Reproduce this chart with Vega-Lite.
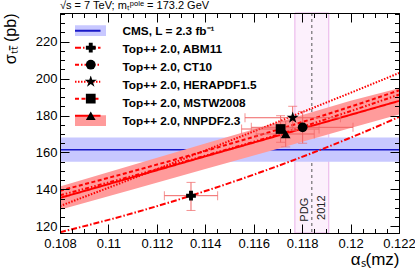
{
  "$schema": "https://vega.github.io/schema/vega-lite/v6.json",
  "width": 339,
  "height": 220,
  "autosize": {"type": "none"},
  "padding": {"left": 60, "top": 13, "right": 16, "bottom": 36},
  "title": {"text": "√s = 7 TeV; mₜᵖᵒˡᵉ = 173.2 GeV", "anchor": "start", "frame": "group", "fontSize": 11, "fontWeight": "normal", "font": "Liberation Sans", "baseline": "alphabetic", "offset": -7.5, "color": "black"},
  "config": {"view": {"stroke": null}, "font": "Liberation Sans"},
  "resolve": {"axis": {"x": "independent", "y": "independent"}},
  "datasets": {
    "pdg": [{"lo": 0.1177, "hi": 0.1191, "c": 0.1184}],
    "cms": [{"pdf": "CMS", "xs": 161.5, "lo": 155.0, "hi": 168.1}],
    "band": [
      {"pdf": "NNPDF2.3", "alphas": 0.108, "lo": 129.0, "hi": 141.6},
      {"pdf": "NNPDF2.3", "alphas": 0.111, "lo": 140.0, "hi": 153.2},
      {"pdf": "NNPDF2.3", "alphas": 0.114, "lo": 151.0, "hi": 164.8},
      {"pdf": "NNPDF2.3", "alphas": 0.117, "lo": 162.0, "hi": 176.4},
      {"pdf": "NNPDF2.3", "alphas": 0.120, "lo": 173.2, "hi": 188.0},
      {"pdf": "NNPDF2.3", "alphas": 0.122, "lo": 180.6, "hi": 194.8}
    ],
    "curves": [
      {"pdf": "ABM11", "alphas": 0.108, "xs": 116.8},
      {"pdf": "ABM11", "alphas": 0.111, "xs": 127.1},
      {"pdf": "ABM11", "alphas": 0.114, "xs": 139.1},
      {"pdf": "ABM11", "alphas": 0.117, "xs": 152.7},
      {"pdf": "ABM11", "alphas": 0.120, "xs": 168.0},
      {"pdf": "ABM11", "alphas": 0.122, "xs": 179.2},
      {"pdf": "CT10", "alphas": 0.108, "xs": 136.8},
      {"pdf": "CT10", "alphas": 0.111, "xs": 147.3},
      {"pdf": "CT10", "alphas": 0.114, "xs": 158.3},
      {"pdf": "CT10", "alphas": 0.117, "xs": 169.7},
      {"pdf": "CT10", "alphas": 0.120, "xs": 182.4},
      {"pdf": "CT10", "alphas": 0.122, "xs": 191.3},
      {"pdf": "HERAPDF1.5", "alphas": 0.108, "xs": 131.0},
      {"pdf": "HERAPDF1.5", "alphas": 0.111, "xs": 145.9},
      {"pdf": "HERAPDF1.5", "alphas": 0.114, "xs": 161.1},
      {"pdf": "HERAPDF1.5", "alphas": 0.117, "xs": 176.6},
      {"pdf": "HERAPDF1.5", "alphas": 0.120, "xs": 192.3},
      {"pdf": "HERAPDF1.5", "alphas": 0.122, "xs": 203.0},
      {"pdf": "MSTW2008", "alphas": 0.108, "xs": 139.3},
      {"pdf": "MSTW2008", "alphas": 0.111, "xs": 149.8},
      {"pdf": "MSTW2008", "alphas": 0.114, "xs": 160.8},
      {"pdf": "MSTW2008", "alphas": 0.117, "xs": 172.4},
      {"pdf": "MSTW2008", "alphas": 0.120, "xs": 184.8},
      {"pdf": "MSTW2008", "alphas": 0.122, "xs": 193.6},
      {"pdf": "NNPDF2.3", "alphas": 0.108, "xs": 135.4},
      {"pdf": "NNPDF2.3", "alphas": 0.111, "xs": 146.6},
      {"pdf": "NNPDF2.3", "alphas": 0.114, "xs": 157.9},
      {"pdf": "NNPDF2.3", "alphas": 0.117, "xs": 169.1},
      {"pdf": "NNPDF2.3", "alphas": 0.120, "xs": 180.4},
      {"pdf": "NNPDF2.3", "alphas": 0.122, "xs": 187.9}
    ],
    "points": [
      {"pdf": "ABM11", "alphas": 0.11341, "xs": 136.6, "as_lo": 0.11231, "as_hi": 0.11451, "s_lo": 128.6, "s_hi": 143.8},
      {"pdf": "CT10", "alphas": 0.11802, "xs": 173.6, "as_lo": 0.1159, "as_hi": 0.1201, "s_lo": 165.0, "s_hi": 182.2},
      {"pdf": "HERAPDF1.5", "alphas": 0.11761, "xs": 178.8, "as_lo": 0.11564, "as_hi": 0.11958, "s_lo": 171.9, "s_hi": 185.0},
      {"pdf": "MSTW2008", "alphas": 0.11711, "xs": 172.7, "as_lo": 0.1155, "as_hi": 0.1187, "s_lo": 165.5, "s_hi": 179.9},
      {"pdf": "NNPDF2.3", "alphas": 0.11732, "xs": 170.0, "as_lo": 0.1161, "as_hi": 0.1185, "s_lo": 163.0, "s_hi": 177.0}
    ],
    "notes": [
      {"label": "PDG", "alphas": 0.11812, "xs": 129.0},
      {"label": "2012", "alphas": 0.11881, "xs": 130.1}
    ]
  },
  "layer": [
    {
      "data": {"name": "pdg"},
      "mark": {"type": "rect", "fill": "#fcf0fc", "stroke": "#e9b0e9", "strokeWidth": 1},
      "encoding": {
        "x": {"field": "lo", "type": "quantitative", "scale": {"domain": [0.108, 0.122], "nice": false, "zero": false}, "axis": null},
        "x2": {"field": "hi"}
      }
    },
    {
      "data": {"name": "pdg"},
      "mark": {"type": "rule", "strokeDash": [3, 3], "color": "#555555", "strokeWidth": 1},
      "encoding": {
        "x": {"field": "c", "type": "quantitative", "axis": null}
      }
    },
    {
      "data": {"name": "cms"},
      "mark": {"type": "rect", "opacity": 1},
      "encoding": {
        "y": {"field": "lo", "type": "quantitative", "scale": {"domain": [116.4, 235.5], "nice": false, "zero": false}, "axis": null},
        "y2": {"field": "hi"},
        "fill": {
          "field": "pdf", "type": "nominal",
          "scale": {"domain": ["CMS", "ABM11", "CT10", "HERAPDF1.5", "MSTW2008", "NNPDF2.3", "none"], "range": ["#c8c8ff", "transparent", "transparent", "transparent", "transparent", "#ff9b9b", "transparent"]},
          "legend": {"values": ["CMS", "ABM11", "CT10", "HERAPDF1.5", "MSTW2008", "NNPDF2.3"], "orient": "none", "legendX": 15, "legendY": 11.7, "title": null, "padding": 0, "clipHeight": 12, "symbolType": "M-2.583,-0.9H2.583V0.9H-2.583Z", "symbolSize": 144, "symbolOffset": 9.5, "symbolStrokeWidth": 0, "symbolOpacity": 1, "labelFont": "Liberation Sans", "labelFontSize": 11.8, "labelFontWeight": "bold", "labelColor": "black", "labelOffset": 26, "rowPadding": 5, "labelLimit": 300, "labelExpr": "datum.value === 'CMS' ? 'CMS, L = 2.3 fb⁻¹' : 'Top++ 2.0, ' + datum.value"}
        }
      }
    },
    {
      "data": {"name": "cms"},
      "mark": {"type": "rule", "strokeWidth": 1.5},
      "encoding": {
        "y": {"field": "xs", "type": "quantitative", "axis": null},
        "stroke": {
          "field": "pdf", "type": "nominal",
          "scale": {"domain": ["CMS", "ABM11", "CT10", "HERAPDF1.5", "MSTW2008", "NNPDF2.3"], "range": ["#1818c8", "#ff0000", "#ff0000", "#ff0000", "#ff0000", "#ff0000"]},
          "legend": {"orient": "none", "legendX": 15, "legendY": 11.7, "title": null, "padding": 0, "clipHeight": 12, "symbolType": "M-3.1,0H3.1", "symbolSize": 100, "symbolStrokeWidth": 2, "symbolOffset": 9.5, "symbolFillColor": "transparent", "labelExpr": "''", "labelFontSize": 11.5, "rowPadding": 5}
        },
        "strokeDash": {
          "field": "pdf", "type": "nominal",
          "scale": {"domain": ["CMS", "ABM11", "CT10", "HERAPDF1.5", "MSTW2008", "NNPDF2.3"], "range": [[1, 0], [6, 2, 1.5, 2], [4, 2, 1.5, 2, 1.5, 2], [1.5, 1.5], [4, 2.5], [1, 0]]},
          "legend": {"orient": "none", "legendX": 15, "legendY": 11.7, "title": null, "padding": 0, "clipHeight": 12, "symbolType": "M-3.1,0H3.1", "symbolSize": 100, "symbolStrokeWidth": 2, "symbolOffset": 9.5, "symbolFillColor": "transparent", "labelExpr": "''", "labelFontSize": 11.5, "rowPadding": 5}
        }
      }
    },
    {
      "data": {"name": "band"},
      "mark": {"type": "area", "opacity": 1, "clip": true},
      "encoding": {
        "x": {"field": "alphas", "type": "quantitative", "axis": {"orient": "bottom", "values": [0.108, 0.1085, 0.109, 0.1095, 0.11, 0.1105, 0.111, 0.1115, 0.112, 0.1125, 0.113, 0.1135, 0.114, 0.1145, 0.115, 0.1155, 0.116, 0.1165, 0.117, 0.1175, 0.118, 0.1185, 0.119, 0.1195, 0.12, 0.1205, 0.121, 0.1215, 0.122], "labels": false, "domain": false, "grid": false, "tickSize": -4.5, "tickColor": "black", "title": null, "zindex": 1}},
        "y": {"field": "lo", "type": "quantitative", "axis": {"orient": "left", "values": [120, 125, 130, 135, 140, 145, 150, 155, 160, 165, 170, 175, 180, 185, 190, 195, 200, 205, 210, 215, 220, 225, 230, 235], "labels": false, "domain": false, "grid": false, "tickSize": -4.5, "tickColor": "black", "title": null, "zindex": 1}},
        "y2": {"field": "hi"},
        "fill": {"field": "pdf", "type": "nominal"}
      }
    },
    {
      "data": {"name": "curves"},
      "mark": {"type": "line", "strokeWidth": 2, "interpolate": "monotone", "clip": true},
      "encoding": {
        "x": {"field": "alphas", "type": "quantitative", "axis": {"orient": "bottom", "values": [0.108, 0.11, 0.112, 0.114, 0.116, 0.118, 0.12, 0.122], "format": "~g", "tickSize": -9, "tickColor": "black", "labelPadding": 13, "labelFontSize": 13, "labelColor": "black", "labelFont": "Liberation Sans", "labelFlush": false, "labelOverlap": false, "domain": true, "domainColor": "black", "grid": false, "title": "αₛ(mᴢ)", "titleX": 339, "titleY": 31, "titleAlign": "right", "titleBaseline": "alphabetic", "titleFontSize": 17, "titleFontWeight": "normal", "titleColor": "black", "titleFont": "Liberation Sans", "zindex": 1}},
        "y": {"field": "xs", "type": "quantitative", "axis": {"orient": "left", "values": [120, 140, 160, 180, 200, 220], "tickSize": -9, "tickColor": "black", "labelPadding": 12, "labelFontSize": 13, "labelColor": "black", "labelFont": "Liberation Sans", "labelOverlap": false, "domain": true, "domainColor": "black", "grid": false, "title": "σₜₜ̄ (pb)", "titleX": -45, "titleY": 0, "titleAngle": 270, "titleAlign": "right", "titleBaseline": "alphabetic", "titleFontSize": 16, "titleFontWeight": "normal", "titleColor": "black", "titleFont": "Liberation Sans", "zindex": 1}},
        "stroke": {"field": "pdf", "type": "nominal"},
        "strokeDash": {"field": "pdf", "type": "nominal"}
      }
    },
    {
      "data": {"name": "points"},
      "mark": {"type": "errorbar", "color": "#f06464", "thickness": 1, "ticks": {"size": 9}},
      "encoding": {
        "x": {"field": "as_lo", "type": "quantitative", "axis": null},
        "x2": {"field": "as_hi"},
        "y": {"field": "xs", "type": "quantitative", "axis": null}
      }
    },
    {
      "data": {"name": "points"},
      "mark": {"type": "errorbar", "color": "#f06464", "thickness": 1, "ticks": {"size": 9}},
      "encoding": {
        "y": {"field": "s_lo", "type": "quantitative", "axis": null},
        "y2": {"field": "s_hi"},
        "x": {"field": "alphas", "type": "quantitative", "axis": null}
      }
    },
    {
      "data": {"name": "points"},
      "mark": {"type": "point", "filled": true, "color": "black", "opacity": 1, "size": 95, "strokeWidth": 0},
      "encoding": {
        "x": {"field": "alphas", "type": "quantitative", "axis": {"orient": "top", "values": [0.108, 0.11, 0.112, 0.114, 0.116, 0.118, 0.12, 0.122], "labels": false, "domain": true, "domainColor": "black", "grid": false, "tickSize": -9, "tickColor": "black", "title": null, "zindex": 1}},
        "y": {"field": "xs", "type": "quantitative", "axis": {"orient": "right", "values": [120, 140, 160, 180, 200, 220], "labels": false, "domain": true, "domainColor": "black", "grid": false, "tickSize": -9, "tickColor": "black", "title": null, "zindex": 1}},
        "shape": {
          "field": "pdf", "type": "nominal",
          "scale": {"domain": ["ABM11", "CT10", "HERAPDF1.5", "MSTW2008", "NNPDF2.3"], "range": ["cross", "circle", "M0,-1.3L0.292,-0.402L1.236,-0.402L0.472,0.153L0.764,1.052L0,0.497L-0.764,1.052L-0.472,0.153L-1.236,-0.402L-0.292,-0.402Z", "square", "triangle-up"]},
          "legend": {"orient": "none", "legendX": 25, "legendY": 28.7, "title": null, "padding": 0, "clipHeight": 12, "symbolFillColor": "black", "symbolStrokeWidth": 0, "symbolSize": 95, "symbolOpacity": 1, "labelExpr": "''", "labelFontSize": 11.5, "rowPadding": 5}
        }
      }
    },
    {
      "data": {"name": "notes"},
      "mark": {"type": "text", "angle": 270, "fontSize": 11, "color": "#222222", "align": "center", "baseline": "middle", "font": "Liberation Sans"},
      "encoding": {
        "x": {"field": "alphas", "type": "quantitative", "axis": {"orient": "top", "values": [0.108, 0.1085, 0.109, 0.1095, 0.11, 0.1105, 0.111, 0.1115, 0.112, 0.1125, 0.113, 0.1135, 0.114, 0.1145, 0.115, 0.1155, 0.116, 0.1165, 0.117, 0.1175, 0.118, 0.1185, 0.119, 0.1195, 0.12, 0.1205, 0.121, 0.1215, 0.122], "labels": false, "domain": false, "grid": false, "tickSize": -4.5, "tickColor": "black", "title": null, "zindex": 1}},
        "y": {"field": "xs", "type": "quantitative", "axis": {"orient": "right", "values": [120, 125, 130, 135, 140, 145, 150, 155, 160, 165, 170, 175, 180, 185, 190, 195, 200, 205, 210, 215, 220, 225, 230, 235], "labels": false, "domain": false, "grid": false, "tickSize": -4.5, "tickColor": "black", "title": null, "zindex": 1}},
        "text": {"field": "label"}
      }
    }
  ]
}
